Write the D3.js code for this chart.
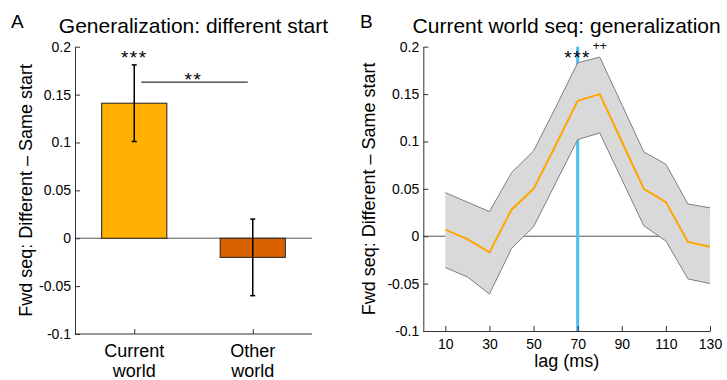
<!DOCTYPE html>
<html>
<head>
<meta charset="utf-8">
<script src="https://cdn.jsdelivr.net/npm/d3@7"></script>
<style>
  body { margin: 0; background: #fff; }
  text { font-family: "Liberation Sans", Arial, Helvetica, sans-serif; fill: #000; }
</style>
</head>
<body>
<svg id="chart" width="727" height="380"></svg>
<script>
// ---- data ----
const categories = ["Current world", "Other world"];
const barValues = [0.141, -0.020];
const barErrors = [0.040, 0.040];
const barColors = ["#FFB000", "#D96200"];

const lags = [10, 20, 30, 40, 50, 60, 70, 80, 90, 100, 110, 120, 130];
const lagMean = [0.007, -0.003, -0.017, 0.028, 0.050, 0.096, 0.143, 0.150, 0.100, 0.050, 0.036, -0.006, -0.011];
const lagUpper = [0.046, 0.036, 0.026, 0.067, 0.090, 0.136, 0.183, 0.189, 0.139, 0.089, 0.076, 0.034, 0.030];
const lagLower = [-0.033, -0.043, -0.061, -0.013, 0.010, 0.056, 0.102, 0.109, 0.060, 0.011, -0.005, -0.045, -0.050];
const peakLag = 70;

const yTicks = [-0.1, -0.05, 0, 0.05, 0.1, 0.15, 0.2];
const lagTicks = [10, 30, 50, 70, 90, 110, 130];
const yLabel = "Fwd seq: Different \u2013 Same start";

const svg = d3.select("#chart");
const fmt = d => String(+d.toFixed(2));
const axisColor = "#333";

function styleAxis(g) {
  g.select(".domain").attr("stroke", axisColor);
  g.selectAll(".tick line").attr("stroke", axisColor);
  g.selectAll(".tick text").attr("font-size", 14).attr("fill", "#000");
}

// ================= Panel A =================
let A = { left: 75, right: 312, top: 46.7, bottom: 334 };

let xA = d3.scalePoint()
  .domain(categories)
  .range([A.left, A.right])
  .padding(0.5);
let yA = d3.scaleLinear().domain([-0.1, 0.2]).range([A.bottom, A.top]);
let barW = xA.step() * 0.55;

// zero line
svg.append("line")
  .attr("x1", A.left).attr("x2", A.right)
  .attr("y1", yA(0)).attr("y2", yA(0))
  .attr("stroke", "#555").attr("stroke-width", 1);

svg.selectAll("rect.bar")
  .data(categories)
  .enter()
  .append("rect")
    .attr("class", "bar")
    .attr("x", d => xA(d) - barW / 2)
    .attr("width", barW)
    .attr("y", (d, i) => yA(Math.max(0, barValues[i])))
    .attr("height", (d, i) => Math.abs(yA(barValues[i]) - yA(0)))
    .attr("fill", (d, i) => barColors[i])
    .attr("stroke", "#222")
    .attr("stroke-width", 1);

// error bars
categories.forEach((c, i) => {
  let x = xA(c);
  let lo = yA(barValues[i] - barErrors[i]);
  let hi = yA(barValues[i] + barErrors[i]);
  let g = svg.append("g").attr("stroke", "#000").attr("stroke-width", 1.5);
  g.append("line").attr("x1", x).attr("x2", x).attr("y1", hi).attr("y2", lo);
  g.append("line").attr("x1", x - 2.5).attr("x2", x + 2.5).attr("y1", hi).attr("y2", hi);
  g.append("line").attr("x1", x - 2.5).attr("x2", x + 2.5).attr("y1", lo).attr("y2", lo);
});

// significance marks
svg.append("text")
  .attr("x", xA(categories[0]))
  .attr("y", yA(barValues[0] + barErrors[0]) - 0.5)
  .attr("text-anchor", "middle")
  .attr("font-size", 19)
  .attr("letter-spacing", 1.5)
  .text("***");

let compY = yA(0.163);
svg.append("line")
  .attr("x1", xA(categories[0]) + 7).attr("x2", xA(categories[1]) - 5)
  .attr("y1", compY).attr("y2", compY)
  .attr("stroke", "#000").attr("stroke-width", 1);
svg.append("text")
  .attr("x", (xA(categories[0]) + xA(categories[1])) / 2)
  .attr("y", compY + 4)
  .attr("text-anchor", "middle")
  .attr("font-size", 19)
  .attr("letter-spacing", 1.5)
  .text("**");

// axes
let axA = svg.append("g")
  .attr("transform", "translate(" + A.left + ",0)")
  .call(d3.axisLeft(yA).tickValues(yTicks).tickFormat(fmt).tickSizeInner(-5).tickSizeOuter(0).tickPadding(4));
styleAxis(axA);

let axAx = svg.append("g")
  .attr("transform", "translate(0," + A.bottom + ")")
  .call(d3.axisBottom(xA).tickSizeInner(-5).tickSizeOuter(0).tickFormat(""));
styleAxis(axAx);
axAx.select(".domain").attr("d", "M" + A.left + ",0H" + A.right);

// two-line category labels
categories.forEach(c => {
  let words = c.split(" ");
  let t = svg.append("text")
    .attr("x", xA(c))
    .attr("y", 356.7)
    .attr("text-anchor", "middle")
    .attr("font-size", 18);
  t.append("tspan").attr("x", xA(c)).text(words[0]);
  t.append("tspan").attr("x", xA(c)).attr("dy", 20.5).text(words[1]);
});

svg.append("text")
  .attr("transform", "translate(31.5," + (A.top + A.bottom) / 2 + ")rotate(-90)")
  .attr("text-anchor", "middle")
  .attr("font-size", 18)
  .text(yLabel);

svg.append("text")
  .attr("x", (A.left + A.right) / 2)
  .attr("y", 32.5)
  .attr("text-anchor", "middle")
  .attr("font-size", 21)
  .text("Generalization: different start");

svg.append("text").attr("x", 11).attr("y", 28.3).attr("font-size", 19).text("A");

// ================= Panel B =================
let B = { left: 423.3, right: 710, top: 46.7, bottom: 331 };

let xB = d3.scaleLinear().domain([0, 130]).range([B.left, B.right]);
let yB = d3.scaleLinear().domain([-0.1, 0.2]).range([B.bottom, B.top]);

let lagData = lags.map((l, i) => ({ lag: l, mean: lagMean[i], upper: lagUpper[i], lower: lagLower[i] }));

svg.append("line")
  .attr("x1", B.left).attr("x2", B.right)
  .attr("y1", yB(0)).attr("y2", yB(0))
  .attr("stroke", "#555").attr("stroke-width", 1);

svg.append("line")
  .attr("x1", xB(peakLag)).attr("x2", xB(peakLag))
  .attr("y1", yB(0.2)).attr("y2", yB(-0.1))
  .attr("stroke", "#4DBEEE").attr("stroke-width", 3);

svg.append("path")
  .datum(lagData)
  .attr("d", d3.area().x(d => xB(d.lag)).y0(d => yB(d.lower)).y1(d => yB(d.upper)))
  .attr("fill", "#D9D9D9");

["upper", "lower"].forEach(k => {
  svg.append("path")
    .datum(lagData)
    .attr("d", d3.line().x(d => xB(d.lag)).y(d => yB(d[k])))
    .attr("fill", "none")
    .attr("stroke", "#7f7f7f")
    .attr("stroke-width", 1);
});

svg.append("path")
  .datum(lagData)
  .attr("d", d3.line().x(d => xB(d.lag)).y(d => yB(d.mean)))
  .attr("fill", "none")
  .attr("stroke", "#FFA500")
  .attr("stroke-width", 2);

// significance marks
svg.append("text")
  .attr("x", xB(70))
  .attr("y", yB(0.2) + 17)
  .attr("text-anchor", "middle")
  .attr("font-size", 19)
  .attr("letter-spacing", 1.5)
  .text("***");
svg.append("text")
  .attr("x", xB(80))
  .attr("y", yB(0.2) + 3)
  .attr("text-anchor", "middle")
  .attr("font-size", 12)
  .text("++");

let axB = svg.append("g")
  .attr("transform", "translate(" + B.left + ",0)")
  .call(d3.axisLeft(yB).tickValues(yTicks).tickFormat(fmt).tickSizeInner(-5).tickSizeOuter(0).tickPadding(4));
styleAxis(axB);

let axBx = svg.append("g")
  .attr("transform", "translate(0," + B.bottom + ")")
  .call(d3.axisBottom(xB).tickValues(lagTicks).tickSizeInner(-5).tickSizeOuter(0).tickPadding(8));
styleAxis(axBx);

svg.append("text")
  .attr("x", (B.left + B.right) / 2)
  .attr("y", 366.7)
  .attr("text-anchor", "middle")
  .attr("font-size", 18)
  .text("lag (ms)");

svg.append("text")
  .attr("transform", "translate(375," + (B.top + B.bottom) / 2 + ")rotate(-90)")
  .attr("text-anchor", "middle")
  .attr("font-size", 18)
  .text(yLabel);

svg.append("text")
  .attr("x", (B.left + B.right) / 2)
  .attr("y", 32.5)
  .attr("text-anchor", "middle")
  .attr("font-size", 21)
  .text("Current world seq: generalization");

svg.append("text").attr("x", 360).attr("y", 28.3).attr("font-size", 19).text("B");
</script>
</body>
</html>
